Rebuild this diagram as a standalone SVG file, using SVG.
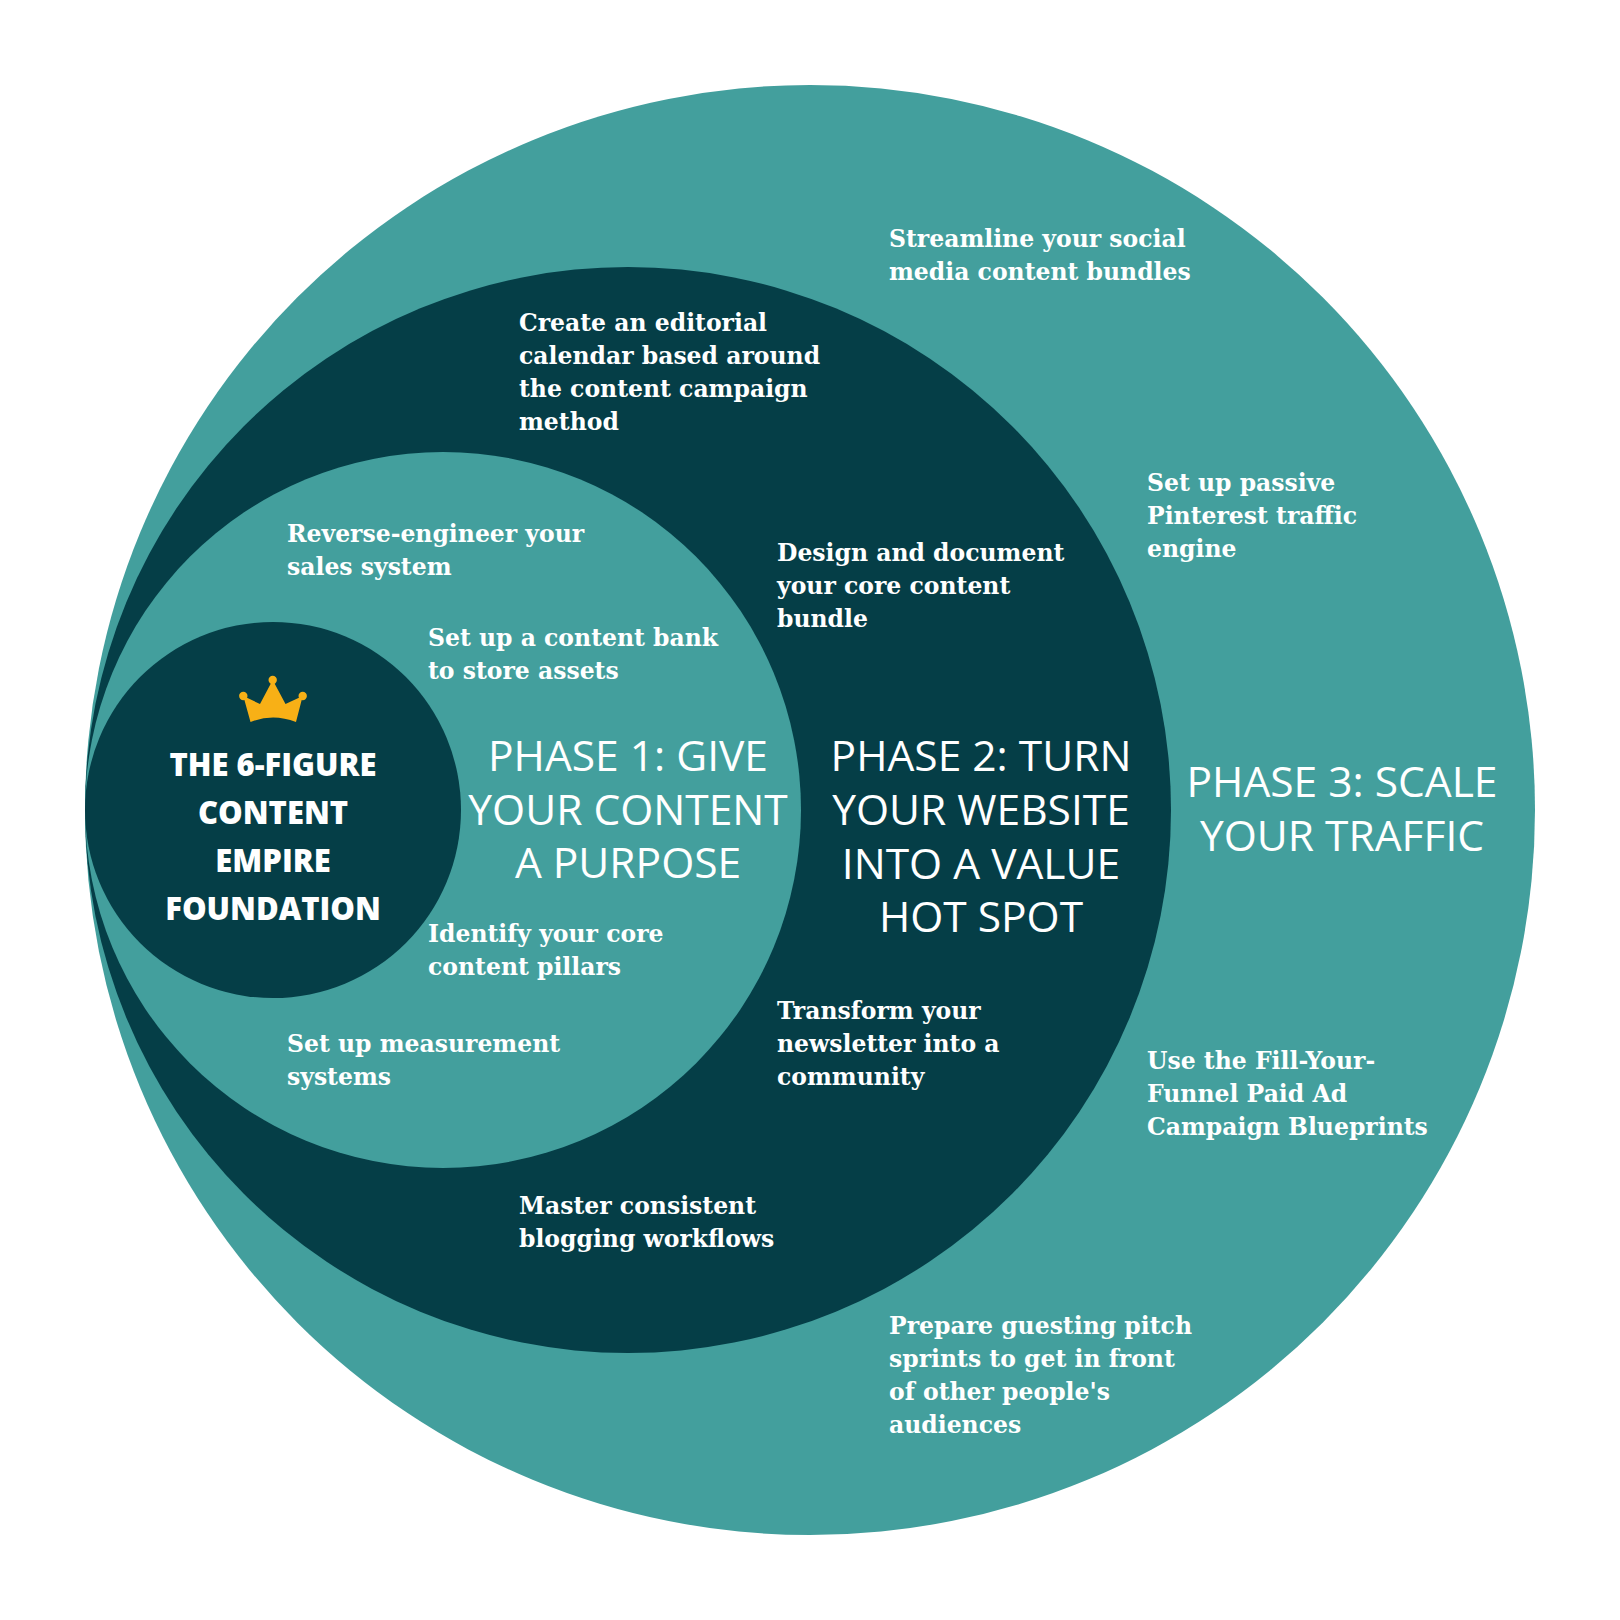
<svg xmlns="http://www.w3.org/2000/svg" width="1620" height="1620" viewBox="0 0 1620 1620">
  <style>
    .teal { fill: #439F9D; }
    .dark { fill: #053E47; }
    .body { font-family: "DejaVu Serif", "Liberation Serif", serif; font-weight: bold; font-size: 23.5px; fill: #FFFFFF; }
    .title { font-family: "Open Sans", "Liberation Sans", sans-serif; font-weight: 500; font-size: 42.5px; fill: #FFFFFF; text-anchor: middle; }
    .found { font-family: "Open Sans", "Liberation Sans", sans-serif; font-weight: 800; font-size: 31px; fill: #FFFFFF; text-anchor: middle; }
    .crown { fill: #F8B016; }
  </style>
  <rect x="0" y="0" width="1620" height="1620" fill="#FFFFFF"/>

  <g id="phase3">
    <circle class="teal" cx="810" cy="810" r="725"/>
    <text class="title"><tspan x="1342" y="797">PHASE 3: SCALE</tspan><tspan x="1342" y="851">YOUR TRAFFIC</tspan></text>
    <text class="body"><tspan x="889" y="247">Streamline your social</tspan><tspan x="889" y="280">media content bundles</tspan></text>
    <text class="body"><tspan x="1147" y="491">Set up passive</tspan><tspan x="1147" y="524">Pinterest traffic</tspan><tspan x="1147" y="557">engine</tspan></text>
    <text class="body"><tspan x="1147" y="1069">Use the Fill-Your-</tspan><tspan x="1147" y="1102">Funnel Paid Ad</tspan><tspan x="1147" y="1135">Campaign Blueprints</tspan></text>
    <text class="body"><tspan x="889" y="1334">Prepare guesting pitch</tspan><tspan x="889" y="1367">sprints to get in front</tspan><tspan x="889" y="1400">of other people's</tspan><tspan x="889" y="1433">audiences</tspan></text>
  </g>

  <g id="phase2">
    <circle class="dark" cx="628" cy="810" r="543"/>
    <text class="title"><tspan x="981" y="771">PHASE 2: TURN</tspan><tspan x="981" y="825">YOUR WEBSITE</tspan><tspan x="981" y="879">INTO A VALUE</tspan><tspan x="981" y="932">HOT SPOT</tspan></text>
    <text class="body"><tspan x="519" y="331">Create an editorial</tspan><tspan x="519" y="364">calendar based around</tspan><tspan x="519" y="397">the content campaign</tspan><tspan x="519" y="430">method</tspan></text>
    <text class="body"><tspan x="777" y="561">Design and document</tspan><tspan x="777" y="594">your core content</tspan><tspan x="777" y="627">bundle</tspan></text>
    <text class="body"><tspan x="777" y="1019">Transform your</tspan><tspan x="777" y="1052">newsletter into a</tspan><tspan x="777" y="1085">community</tspan></text>
    <text class="body"><tspan x="519" y="1214">Master consistent</tspan><tspan x="519" y="1247">blogging workflows</tspan></text>
  </g>

  <g id="phase1">
    <circle class="teal" cx="443" cy="810" r="358"/>
    <text class="title"><tspan x="628" y="771">PHASE 1: GIVE</tspan><tspan x="628" y="825">YOUR CONTENT</tspan><tspan x="628" y="878">A PURPOSE</tspan></text>
    <text class="body"><tspan x="287" y="542">Reverse-engineer your</tspan><tspan x="287" y="575">sales system</tspan></text>
    <text class="body"><tspan x="428" y="646">Set up a content bank</tspan><tspan x="428" y="679">to store assets</tspan></text>
    <text class="body"><tspan x="428" y="942">Identify your core</tspan><tspan x="428" y="975">content pillars</tspan></text>
    <text class="body"><tspan x="287" y="1052">Set up measurement</tspan><tspan x="287" y="1085">systems</tspan></text>
  </g>

  <g id="foundation">
    <circle class="dark" cx="273" cy="810" r="188"/>
    <g id="crown-icon" class="crown">
      <path d="M243.3,696 L260,704 L272.7,680 L285.5,704 L302.7,696 L296,722 Q273,713 250.5,722 Z"/>
      <circle cx="243.3" cy="696" r="4.2"/>
      <circle cx="272.7" cy="680" r="4.2"/>
      <circle cx="302.7" cy="696" r="4.2"/>
    </g>
    <text class="found"><tspan x="273" y="776">THE 6-FIGURE</tspan><tspan x="273" y="824">CONTENT</tspan><tspan x="273" y="872">EMPIRE</tspan><tspan x="273" y="920">FOUNDATION</tspan></text>
  </g>
</svg>
